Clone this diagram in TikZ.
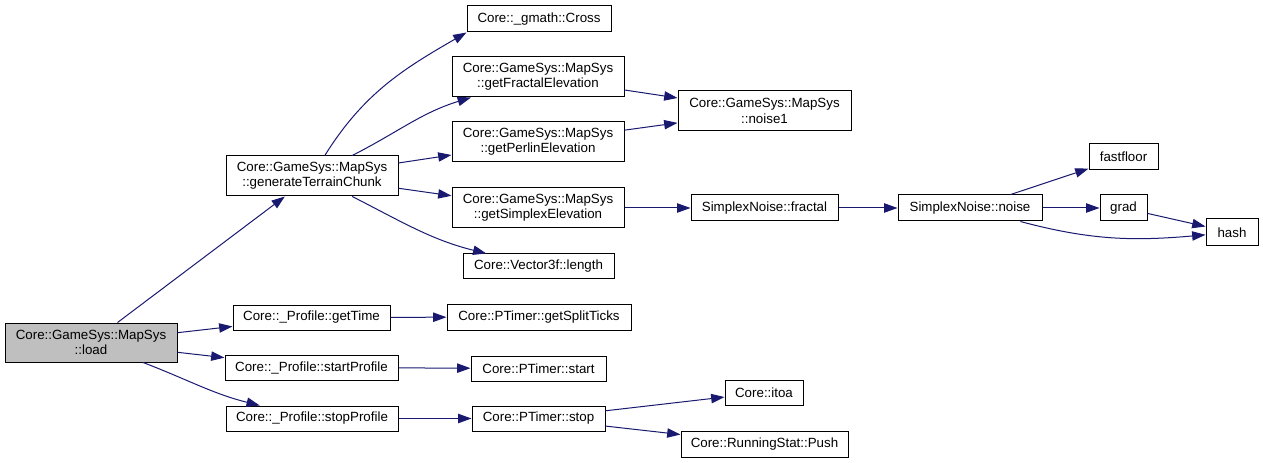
\documentclass[tikz,border=0pt]{standalone}
\usepackage{fontspec}
\setmainfont{Liberation Sans}
\usepackage{xcolor}
\usetikzlibrary{arrows.meta, positioning}
\definecolor{edgeblue}{HTML}{191970}
\definecolor{rootgray}{HTML}{BFBFBF}

\begin{document}
\begin{tikzpicture}[
    x=0.75pt, y=0.75pt,
    fn/.style={rectangle, draw=black, fill=white, line width=0.75pt,
               inner sep=0pt, minimum height=19.5pt, align=center,
               font=\fontsize{10}{11.5}\selectfont},
    fntwo/.style={fn, minimum height=30pt},
    rootfn/.style={fntwo, fill=rootgray, minimum height=29.25pt},
    call/.style={->, draw=edgeblue, line width=0.75pt},
    >={Triangle[length=10pt, width=7pt]}
  ]
  \useasboundingbox (0,0) rectangle (1263,-463);

  % the caller (gray)
  \node[rootfn, minimum width=129pt] (load) at (91,-342.5) {Core::GameSys::MapSys\\::load};

  % first level
  \node[fntwo, minimum width=129pt] (gen) at (312,-176) {Core::GameSys::MapSys\\::generateTerrainChunk};
  \node[fn, minimum width=117.75pt, minimum height=18.75pt] (gettime) at (311.5,-317.5) {Core::\_Profile::getTime};
  \node[fn, minimum width=129.75pt, minimum height=18.75pt] (startprof) at (311.5,-367.5) {Core::\_Profile::startProfile};
  \node[fn, minimum width=129pt, minimum height=18.75pt] (stopprof) at (312,-418.5) {Core::\_Profile::stopProfile};

  % second level
  \node[fn, minimum width=108pt] (cross) at (539,-19) {Core::\_gmath::Cross};
  \node[fntwo, minimum width=129pt] (fractelev) at (538,-77) {Core::GameSys::MapSys\\::getFractalElevation};
  \node[fntwo, minimum width=129pt] (perlinelev) at (538,-142) {Core::GameSys::MapSys\\::getPerlinElevation};
  \node[fntwo, minimum width=129pt] (simplexelev) at (538,-208) {Core::GameSys::MapSys\\::getSimplexElevation};
  \node[fn, minimum width=113.25pt, minimum height=18.75pt] (veclen) at (538.5,-266.5) {Core::Vector3f::length};
  \node[fn, minimum width=138pt] (splitticks) at (539,-317) {Core::PTimer::getSplitTicks};
  \node[fn, minimum width=101.25pt, minimum height=18.75pt] (tstart) at (538.5,-368.5) {Core::PTimer::start};
  \node[fn, minimum width=99.75pt, minimum height=18.75pt] (tstop) at (538.5,-418.5) {Core::PTimer::stop};

  % third level
  \node[fntwo, minimum width=129.75pt] (noiseone) at (764.5,-111) {Core::GameSys::MapSys\\::noise1};
  \node[fn, minimum width=110.25pt] (sfractal) at (764.5,-208) {SimplexNoise::fractal};
  \node[fn, minimum width=58.5pt, minimum height=18.75pt] (itoa) at (764,-392.5) {Core::itoa};
  \node[fn, minimum width=125.25pt] (push) at (764.5,-444) {Core::RunningStat::Push};

  % simplex noise internals
  \node[fn, minimum width=108pt] (snoise) at (970,-208) {SimplexNoise::noise};
  \node[fn, minimum width=51.75pt] (fastfloor) at (1123.5,-157) {fastfloor};
  \node[fn, minimum width=35.25pt] (grad) at (1123.5,-208) {grad};
  \node[fn, minimum width=39pt, minimum height=20.25pt] (hash) at (1232,-232.5) {hash};

  % calls from load
  \draw[call] (load) -- (gen);
  \draw[call] (load) -- (gettime);
  \draw[call] (load) -- (startprof);
  \draw[call] (load) to[out=-21, in=166] (stopprof);

  % calls from generateTerrainChunk
  \draw[call] (gen) to[out=58, in=210] (cross.south west);
  \draw[call] (gen) to[out=27, in=197] (fractelev);
  \draw[call] (gen) -- (perlinelev);
  \draw[call] (gen) -- (simplexelev);
  \draw[call] (gen) to[out=-27, in=166] (veclen);

  \draw[call] (fractelev) -- (noiseone);
  \draw[call] (perlinelev) -- (noiseone);
  \draw[call] (simplexelev) -- (sfractal);
  \draw[call] (sfractal) -- (snoise);
  \draw[call] (snoise) -- (fastfloor);
  \draw[call] (snoise) -- (grad);
  \draw[call] (grad) -- (hash);
  \draw[call] (snoise) to[out=-15, in=185] (hash);

  % profiling calls
  \draw[call] (gettime) -- (splitticks);
  \draw[call] (startprof) -- (tstart);
  \draw[call] (stopprof) -- (tstop);
  \draw[call] (tstop) -- (itoa);
  \draw[call] (tstop) -- (push);
\end{tikzpicture}
\end{document}
